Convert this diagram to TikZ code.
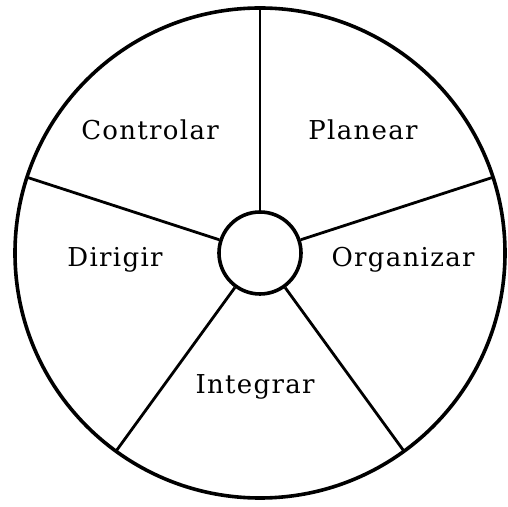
\documentclass[tikz,border=0pt]{standalone}
\usepackage{fontspec}
\newfontfamily\lblfont[LetterSpace=5]{DejaVu Serif}
\usetikzlibrary{positioning}
\tikzset{
  rimline/.style = {line width=1.8pt},
  spokeline/.style = {line width=1.4pt},
  fnlabel/.style = {font=\lblfont\fontsize{13}{15}\selectfont, inner sep=0pt}
}

\begin{document}
\begin{tikzpicture}[x=0.5pt,y=0.5pt]
  \useasboundingbox (-260,-254) rectangle (247,253);
  % outer wheel and hub
  \draw[rimline] (0,0) circle (245);
  \node[draw, rimline, circle, minimum size=41pt, inner sep=0pt] (hub) at (0,0) {};

  % spokes, 72 degrees apart
  \foreach \a [count=\i] in {90,18,-54,-126,162}{
    \coordinate (rim\i) at (\a:245);
  }
  \draw[line width=0.7pt] (hub.90) -- (rim1);
  \foreach \i/\a in {2/18,3/-54,4/-126,5/162}{
    \draw[spokeline] (hub.\a) -- (rim\i);
  }

  % functions
  \node[fnlabel] (planear)   at (103,123)  {Planear};
  \node[fnlabel] (organizar) at (143,-7)   {Organizar};
  \node[fnlabel] (integrar)  at (-5,-134)  {Integrar};
  \node[fnlabel] (dirigir)   at (-145,-7)  {Dirigir};
  \node[fnlabel] (controlar) at (-110,123) {Controlar};
\end{tikzpicture}
\end{document}
